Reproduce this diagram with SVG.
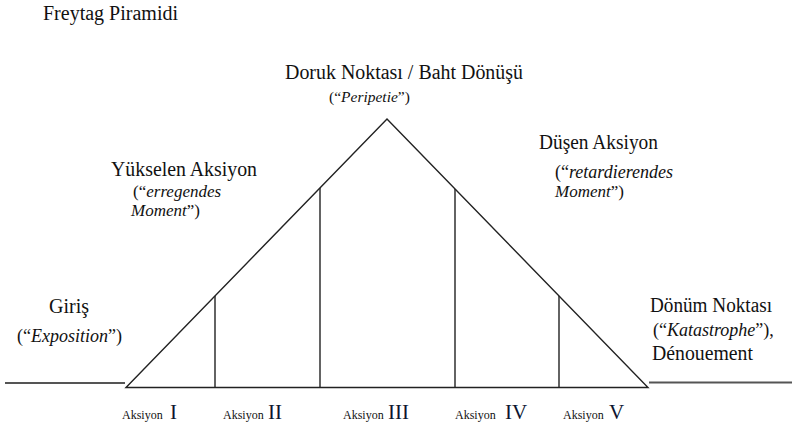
<svg xmlns="http://www.w3.org/2000/svg" width="792" height="428" viewBox="0 0 792 428">
<style>
text{font-family:"Liberation Serif","Times New Roman",serif;fill:#111}
.l{font-size:20px}
.q{font-size:18px}
.i{font-style:italic}
.s{font-size:12px}
.r{font-size:21px;fill:#0d1530}
.ln{stroke:#222;stroke-width:1.4;fill:none}
.base{stroke:#555;stroke-width:2;fill:none}
</style>
<rect width="792" height="428" fill="#fff"/>
<g id="connectors">
<line class="base" x1="5" y1="383" x2="125" y2="383"/>
<line class="base" x1="649" y1="382.5" x2="792" y2="382.5"/>
<polygon class="ln" points="126,387.5 387,119 648,387.5"/>
<line class="ln" x1="215" y1="296" x2="215" y2="387"/>
<line class="ln" x1="320" y1="188" x2="320" y2="387"/>
<line class="ln" x1="455" y1="189" x2="455" y2="387"/>
<line class="ln" x1="559" y1="296" x2="559" y2="387"/>
</g>
<g id="title"><text class="l" x="43" y="20" textLength="135" lengthAdjust="spacingAndGlyphs">Freytag Piramidi</text></g>
<g id="climax">
<text class="l" x="285" y="79" textLength="238" lengthAdjust="spacingAndGlyphs">Doruk Noktası / Baht Dönüşü</text>
<text class="q" x="329" y="102" style="font-size:15.5px">(“<tspan class="i">Peripetie</tspan>”)</text>
</g>
<g id="rising">
<text class="l" x="111" y="176" textLength="146" lengthAdjust="spacingAndGlyphs">Yükselen Aksiyon</text>
<text class="q" x="133" y="197" style="font-size:17px">(“<tspan class="i">erregendes</tspan></text>
<text class="q" x="131" y="216" style="font-size:17px"><tspan class="i">Moment</tspan>”)</text>
</g>
<g id="falling">
<text class="l" x="539" y="149" textLength="119" lengthAdjust="spacingAndGlyphs">Düşen Aksiyon</text>
<text class="q" x="555" y="178">(“<tspan class="i">retardierendes</tspan></text>
<text class="q" x="555" y="197" style="font-size:17px"><tspan class="i">Moment</tspan>”)</text>
</g>
<g id="intro">
<text class="l" x="69" y="313" text-anchor="middle">Giriş</text>
<text class="q" x="17" y="342">(“<tspan class="i">Exposition</tspan>”)</text>
</g>
<g id="denouement">
<text class="l" x="650" y="312" textLength="122" lengthAdjust="spacingAndGlyphs">Dönüm Noktası</text>
<text class="q" x="653" y="336">(“<tspan class="i">Katastrophe</tspan>”),</text>
<text class="l" x="652" y="360" textLength="101" lengthAdjust="spacingAndGlyphs">Dénouement</text>
</g>
<g id="act1"><text class="s" x="122" y="419">Aksiyon</text><text class="r" x="170" y="419">I</text></g>
<g id="act2"><text class="s" x="223" y="419">Aksiyon</text><text class="r" x="268" y="419">II</text></g>
<g id="act3"><text class="s" x="343" y="419">Aksiyon</text><text class="r" x="388" y="419">III</text></g>
<g id="act4"><text class="s" x="455" y="419">Aksiyon</text><text class="r" x="505" y="419">IV</text></g>
<g id="act5"><text class="s" x="563" y="419">Aksiyon</text><text class="r" x="609" y="419">V</text></g>
</svg>
